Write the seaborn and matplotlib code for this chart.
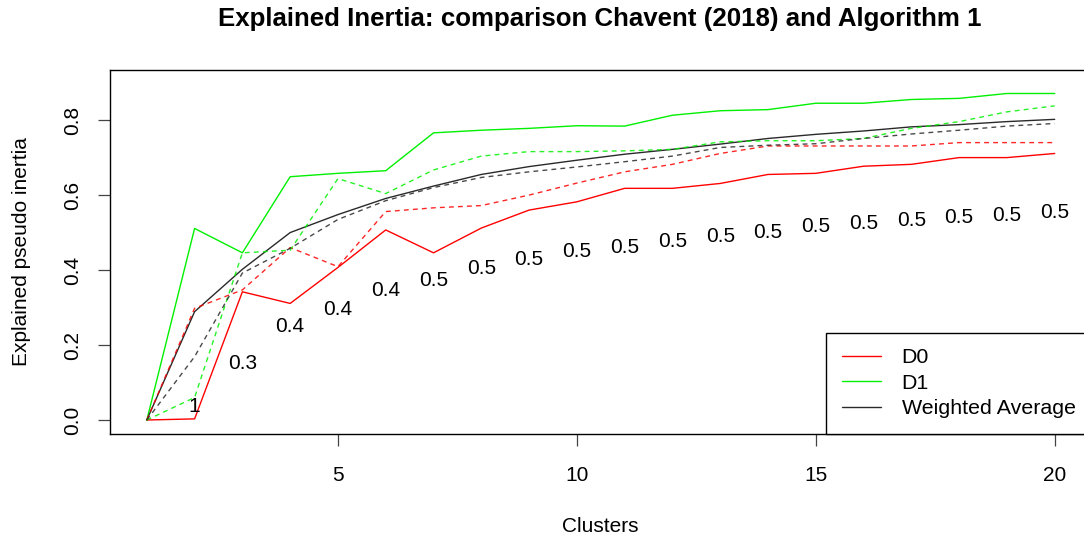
import matplotlib
matplotlib.use("Agg")
import matplotlib.pyplot as plt
import seaborn as sns
import numpy as np

# Number of clusters
clusters = list(range(1, 21))

# Explained pseudo inertia per partition size
d0_solid = [0.0, 0.003, 0.342, 0.311, 0.407, 0.507, 0.446, 0.512, 0.560, 0.582,
            0.618, 0.618, 0.631, 0.655, 0.658, 0.677, 0.682, 0.700, 0.700, 0.711]
d0_dashed = [0.0, 0.298, 0.347, 0.460, 0.409, 0.556, 0.566, 0.572, 0.600, 0.632,
             0.662, 0.682, 0.711, 0.731, 0.731, 0.731, 0.731, 0.740, 0.740, 0.740]
d1_solid = [0.0, 0.511, 0.446, 0.649, 0.658, 0.665, 0.766, 0.773, 0.778, 0.785,
            0.784, 0.813, 0.825, 0.828, 0.845, 0.845, 0.855, 0.858, 0.871, 0.871]
d1_dashed = [0.0, 0.060, 0.446, 0.453, 0.644, 0.604, 0.667, 0.704, 0.716, 0.716,
             0.718, 0.722, 0.742, 0.745, 0.745, 0.751, 0.778, 0.796, 0.822, 0.838]
avg_solid = [0.0, 0.289, 0.402, 0.500, 0.548, 0.591, 0.624, 0.655, 0.676, 0.693,
             0.709, 0.722, 0.736, 0.751, 0.762, 0.771, 0.782, 0.788, 0.796, 0.802]
avg_dashed = [0.0, 0.169, 0.392, 0.458, 0.535, 0.585, 0.620, 0.647, 0.662, 0.675,
              0.689, 0.704, 0.727, 0.733, 0.737, 0.751, 0.763, 0.773, 0.784, 0.791]

# Annotations written above each cluster count
note_x = list(range(2, 21))
note_y = [0.036, 0.151, 0.249, 0.296, 0.345, 0.373, 0.405, 0.427, 0.449, 0.461,
          0.475, 0.489, 0.501, 0.515, 0.523, 0.531, 0.541, 0.545, 0.553]
note_text = ["1", "0.3", "0.4", "0.4", "0.4"] + ["0.5"] * 14

x_ticks = [5, 10, 15, 20]
y_ticks = [0.0, 0.2, 0.4, 0.6, 0.8]

sns.set_theme(style="white")
plt.rcParams["font.family"] = ["Liberation Sans", "DejaVu Sans"]
plt.rcParams["text.color"] = "black"

W, H = 1084, 541
fig = plt.figure(figsize=(W / 100, H / 100), dpi=100)
ax = fig.add_axes([110.5 / W, 107.5 / H, 980.5 / W, 364 / H])

RED = "#FF0000"
GREEN = "#00F000"
DARK = "#2a2a2a"
dash = (0, (3.5, 3.0))
lw = 1.0

sns.lineplot(x=clusters, y=d0_solid, color=RED, linewidth=lw, label="D0", ax=ax)
sns.lineplot(x=clusters, y=d1_solid, color=GREEN, linewidth=lw, label="D1", ax=ax)
sns.lineplot(x=clusters, y=avg_solid, color=DARK, linewidth=lw,
             label="Weighted Average", ax=ax)
sns.lineplot(x=clusters, y=d0_dashed, color=RED, linewidth=lw, linestyle=dash,
             alpha=0.85, ax=ax)
sns.lineplot(x=clusters, y=d1_dashed, color=GREEN, linewidth=lw, linestyle=dash,
             alpha=0.85, ax=ax)
sns.lineplot(x=clusters, y=avg_dashed, color=DARK, linewidth=lw, linestyle=dash,
             alpha=0.85, ax=ax)

for xv, yv, t in zip(note_x, note_y, note_text):
    ax.text(xv, yv, t, ha="center", va="center", fontsize=15, color="black")

ax.set_xlim(0.24, 20.76)
ax.set_ylim(-0.036, 0.935)
ax.set_xticks(x_ticks)
ax.set_xticklabels([str(v) for v in x_ticks])
ax.set_yticks(y_ticks)
ax.set_yticklabels([f"{v:.1f}" for v in y_ticks])
ax.set_xlabel("")
ax.set_ylabel("")

for s in ax.spines.values():
    s.set_visible(True)
    s.set_color("black")
    s.set_linewidth(1.0)

ax.tick_params(axis="both", which="major", direction="out", length=8.6,
               width=0.9, color="#444444", labelsize=15, labelcolor="black",
               bottom=True, left=True, top=False, right=False)
ax.tick_params(axis="x", pad=15)
for lab in ax.get_yticklabels():
    lab.set_rotation(90)
    lab.set_va("center")
    lab.set_ha("center")
    lab.set_rotation_mode("anchor")
ax.yaxis.set_tick_params(pad=19)

leg = ax.legend(loc="lower right", bbox_to_anchor=(1.0, 0.0), borderaxespad=0,
                fancybox=False, frameon=True, edgecolor="black", framealpha=1,
                fontsize=15.4, borderpad=0.72, handlelength=1.85,
                handletextpad=0.95, labelspacing=0.3)
leg.get_frame().set_linewidth(1.0)

fig.text(600 / W, 1 - 19 / H, "Explained Inertia: comparison Chavent (2018) and Algorithm 1",
         ha="center", va="center", fontsize=18.6, fontweight="bold")
fig.text(600 / W, 1 - 526 / H, "Clusters", ha="center", va="center", fontsize=15)
fig.text(22 / W, 1 - 251.5 / H, "Explained pseudo inertia", ha="center",
         va="center", rotation=90, fontsize=15)

fig.savefig("out.png", dpi=100)
